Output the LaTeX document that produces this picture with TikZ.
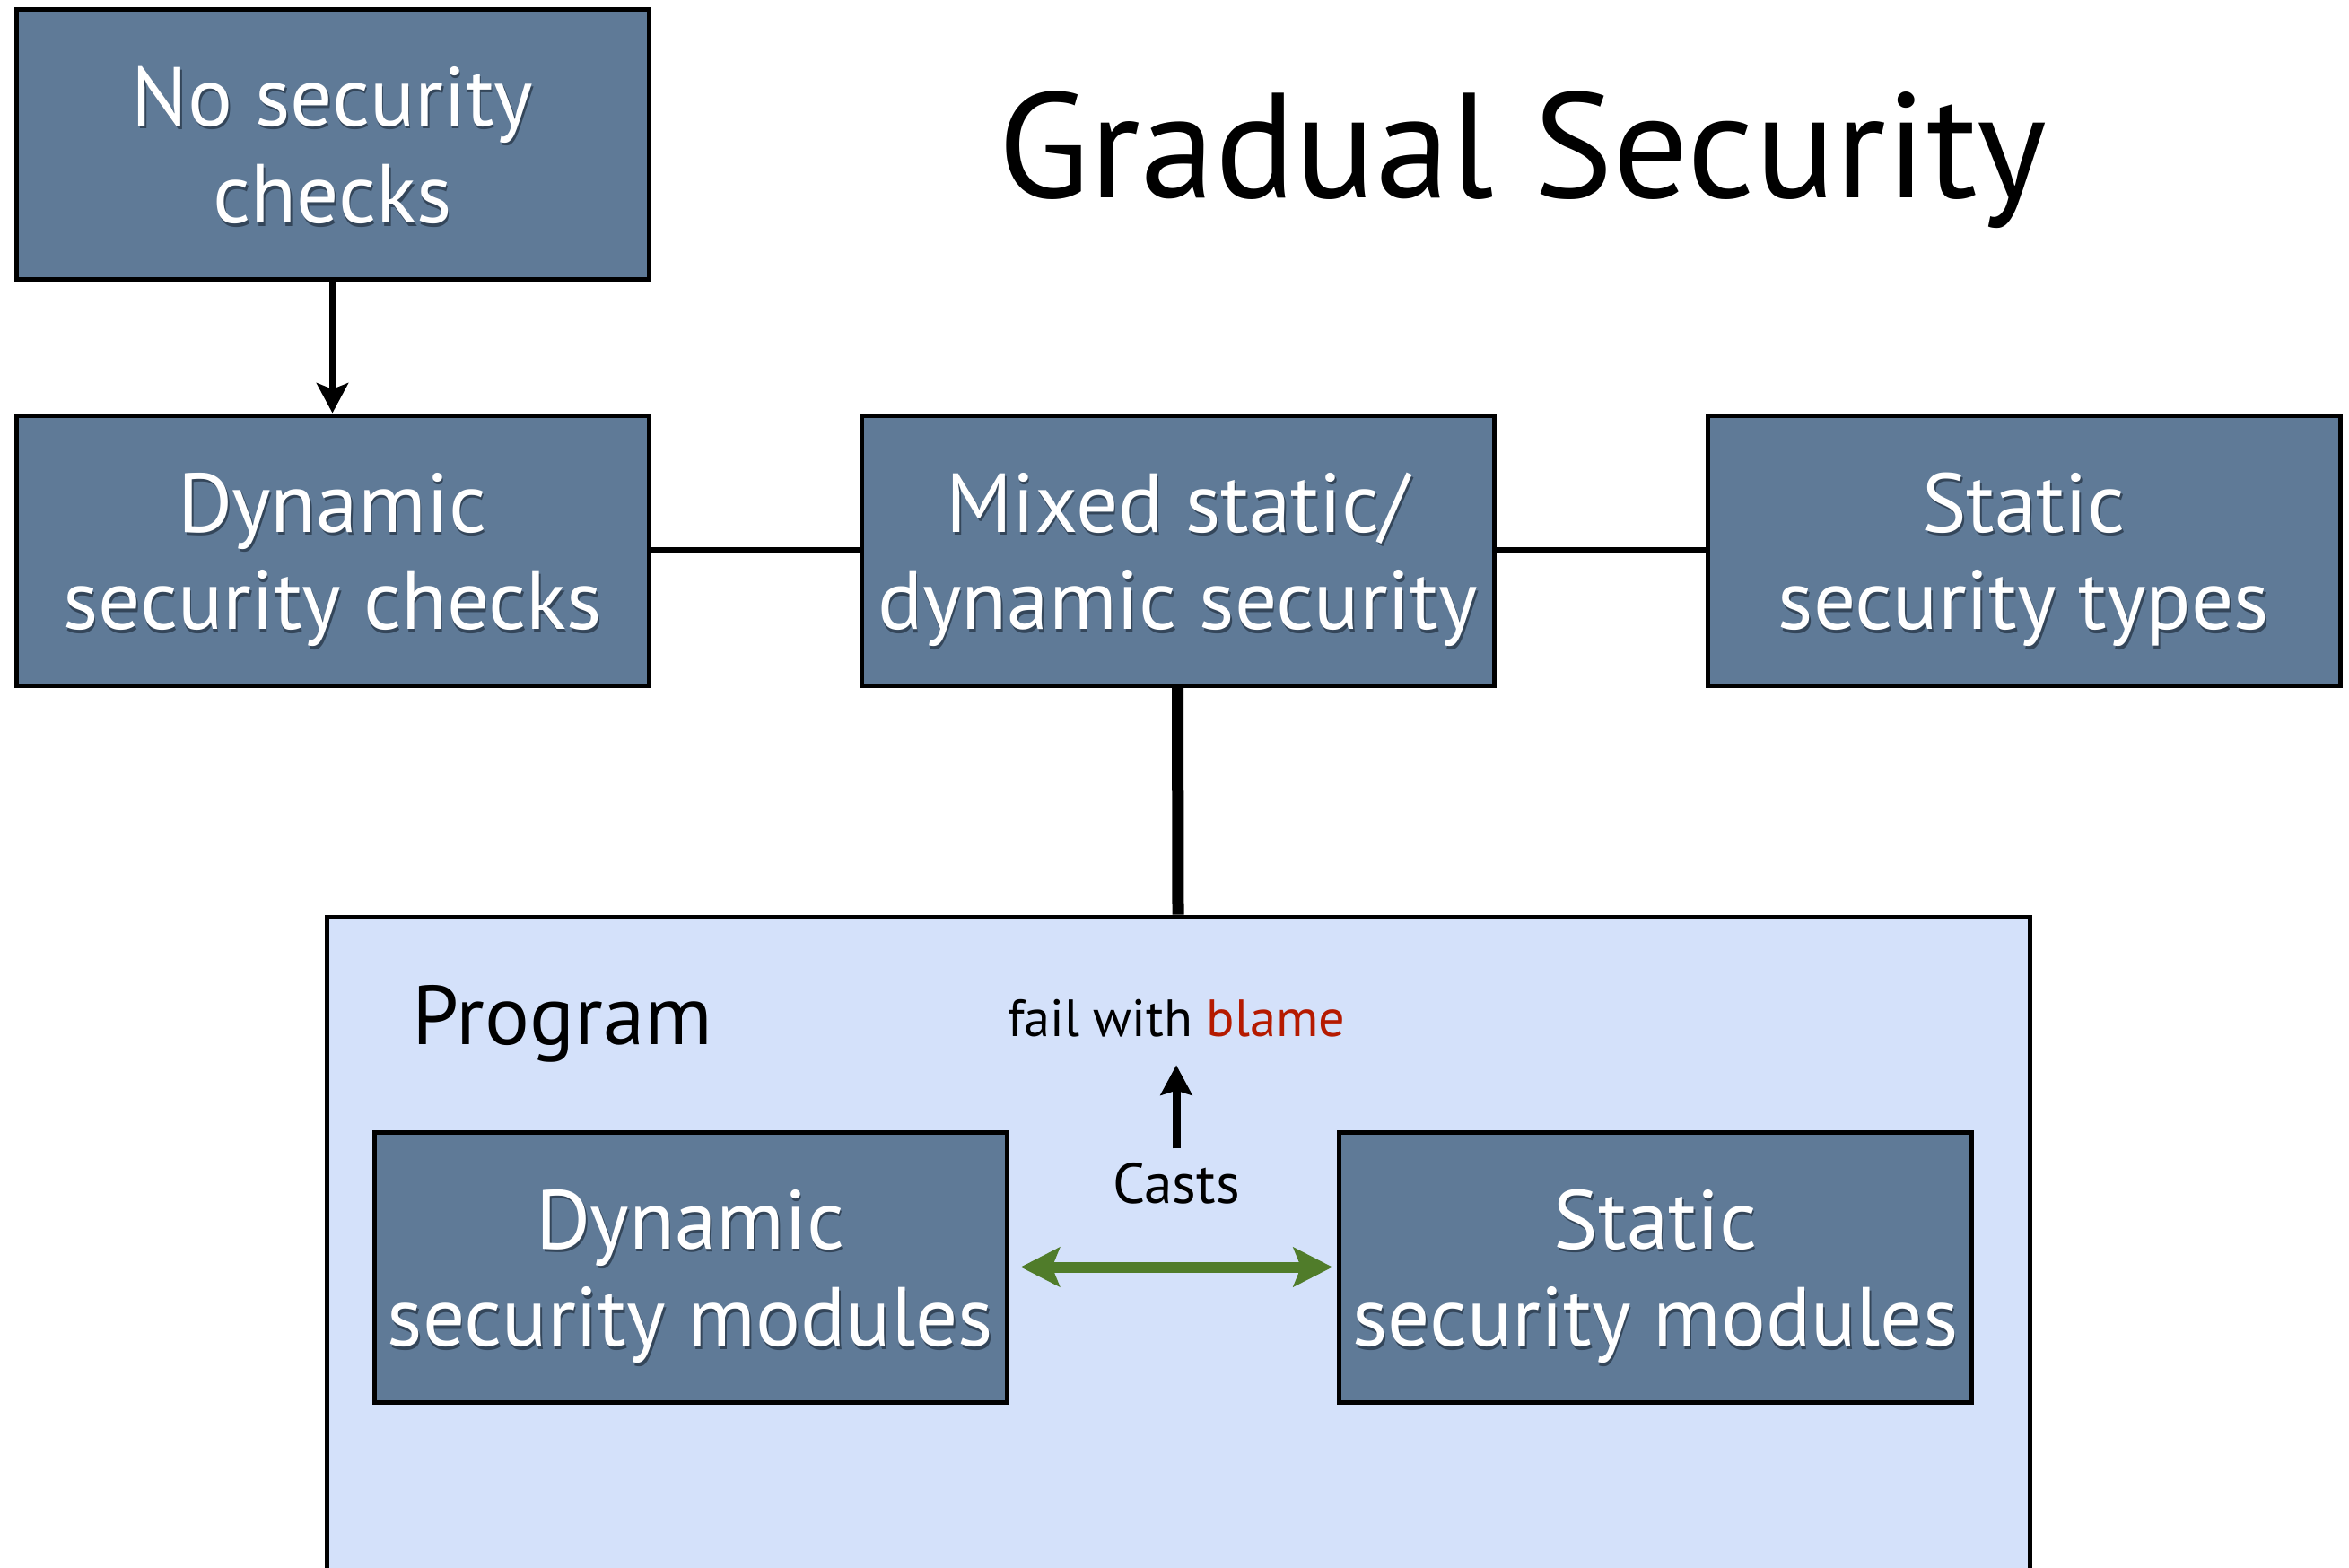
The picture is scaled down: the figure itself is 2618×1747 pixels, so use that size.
\documentclass[tikz,border=0pt]{standalone}
\usepackage{fontspec}
\setmainfont{PT Sans}
\usetikzlibrary{arrows.meta}

\definecolor{slate}{HTML}{5F7A97}
\definecolor{slateshadow}{HTML}{34465A}
\definecolor{progfill}{HTML}{D4E1FA}
\definecolor{blamered}{HTML}{B51A00}
\definecolor{castgreen}{HTML}{507C2A}

% white box label with a soft dark drop shadow underneath
\newcommand{\shadowed}[1]{\leavevmode\rlap{\kern0.5pt\raisebox{-1.1pt}{\textcolor{slateshadow}{#1}}}#1}

\begin{document}
\begin{tikzpicture}[x=0.3pt,y=-0.3pt,
  conceptbox/.style={draw=black, line width=1.5pt, fill=slate, text=white,
    minimum width=211.5pt, minimum height=90.3pt, align=center, inner sep=0pt,
    text height=53pt, text depth=0pt,
    font=\fontsize{28}{32.6}\selectfont},
  link/.style={draw=black, line width=2.2pt},
  thicklink/.style={draw=black, line width=3.9pt},
  progbox/.style={draw=black, line width=1.5pt, fill=progfill,
    minimum width=569.4pt, minimum height=221.4pt, inner sep=0pt},
]
\useasboundingbox (0,0) rectangle (2618,1747);

% title
\node[anchor=base, font=\fontsize{50}{60}\selectfont, inner sep=0pt] (title) at (1697,220) {Gradual Security};

% top row of approaches
\node[conceptbox] (none) at (370.5,160.5) {\shadowed{No security}\\\shadowed{checks}};
\node[conceptbox] (dyn)  at (370.5,613.5) {\shadowed{Dynamic}\\\shadowed{security checks}};
\node[conceptbox] (mix)  at (1312.5,613.5) {\shadowed{Mixed static/}\\\shadowed{dynamic security}};
\node[conceptbox] (stat) at (2255.5,613.5) {\shadowed{Static}\\\shadowed{security types}};

\draw[link, -{Stealth[length=10pt,width=10.5pt,inset=2pt]}] (none) -- (dyn);
\draw[link] (dyn) -- (mix);
\draw[link] (mix) -- (stat);

% program containing both kinds of modules
\node[progbox] (prog) at (1313,1391) {};
\draw[thicklink] (mix.south) -- (prog.north);

\node[anchor=base west, font=\fontsize{28}{32}\selectfont, inner sep=0pt] (proglabel) at (459,1164) {Program};

\node[conceptbox] (dmod) at (769.5,1412.5) {\shadowed{Dynamic}\\\shadowed{security modules}};
\node[conceptbox] (smod) at (1845,1412.5) {\shadowed{Static}\\\shadowed{security modules}};

\node[anchor=base, inner sep=0pt, font=\fontsize{17.5}{20}\selectfont] (fail) at (1311,1155) {fail with \textcolor{blamered}{blame}};
\node[anchor=base, inner sep=0pt, font=\fontsize{19}{22}\selectfont] (casts) at (1311,1341) {Casts};

\draw[link, line width=2.7pt, -{Stealth[length=10pt,width=10.5pt,inset=1.5pt]}, shorten <=4.5pt, shorten >=9.3pt] (casts) -- (fail);
\draw[draw=castgreen, line width=3.6pt,
  {Stealth[length=13pt,width=13pt,inset=2.5pt]}-{Stealth[length=13pt,width=13pt,inset=2.5pt]},
  shorten <=3.9pt, shorten >=1.5pt] (dmod.east) -- (smod.west);
\end{tikzpicture}
\end{document}
